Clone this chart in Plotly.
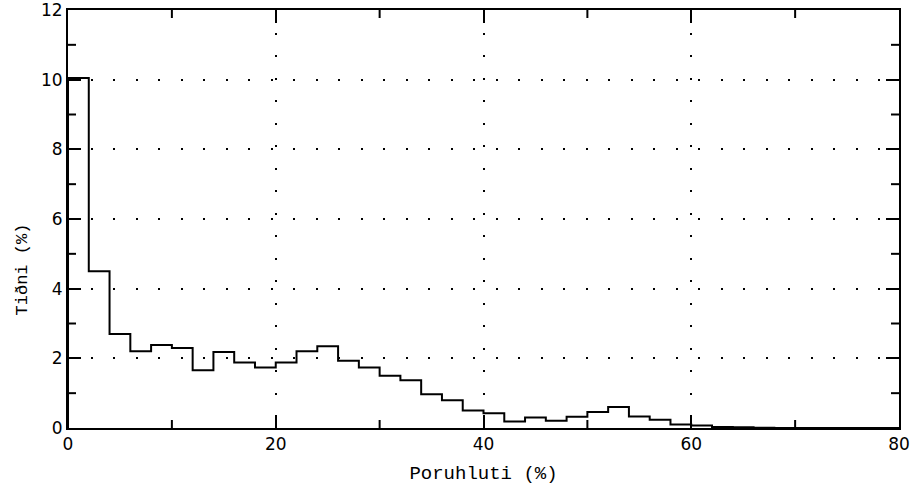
import plotly.graph_objects as go

# Porosity histogram: frequency (%) per 2 %-wide porosity class
bin_lefts = [0, 2, 4, 6, 8, 10, 12, 14, 16, 18,
             20, 22, 24, 26, 28, 30, 32, 34, 36, 38,
             40, 42, 44, 46, 48, 50, 52, 54, 56, 58,
             60, 62, 64, 66, 68, 70, 72, 74, 76, 78]
bin_width = 2
frequency = [10.05, 4.5, 2.7, 2.2, 2.38, 2.3, 1.66, 2.18, 1.88, 1.74,
             1.88, 2.2, 2.35, 1.93, 1.74, 1.5, 1.37, 0.97, 0.8, 0.5,
             0.42, 0.19, 0.3, 0.21, 0.32, 0.46, 0.6, 0.33, 0.24, 0.1,
             0.07, 0.03, 0.02, 0.01, 0, 0, 0, 0, 0, 0]

x_ticks = [0, 20, 40, 60, 80]
x_minor = [10, 30, 50, 70]
y_ticks = [0, 2, 4, 6, 8, 10, 12]
y_minor = [1, 3, 5, 7, 9, 11]
x_range = [0, 80]
y_range = [0, 12]

# step outline: each class drawn as a horizontal segment over its width
step_x = [bin_lefts[0]] + bin_lefts + [bin_lefts[-1] + bin_width]
step_y = [0] + frequency + [frequency[-1]]

tick_font = dict(family="DejaVu Sans", size=17, color="black")
title_font = dict(family="Liberation Mono", size=19, color="black")
dots = "2px,20.5px"
MAJOR_LEN, MINOR_LEN = 13, 8

fig = go.Figure()
fig.add_trace(go.Scatter(
    x=step_x, y=step_y, mode="lines",
    line=dict(color="black", width=2, shape="hv"),
    hoverinfo="skip", showlegend=False,
))

# minor tick marks pointing inward on all four sides
minor_line = dict(color="black", width=2)
shapes = []
for v in x_minor:
    for anchor, sign in ((0, 1), (1, -1)):
        shapes.append(dict(type="line", xref="x", yref="paper",
                           ysizemode="pixel", yanchor=anchor,
                           x0=v, x1=v, y0=0, y1=sign * MINOR_LEN,
                           line=minor_line, layer="above"))
for v in y_minor:
    for anchor, sign in ((0, 1), (1, -1)):
        shapes.append(dict(type="line", yref="y", xref="paper",
                           xsizemode="pixel", xanchor=anchor,
                           y0=v, y1=v, x0=0, x1=sign * MINOR_LEN,
                           line=minor_line, layer="above"))

frame = dict(showline=True, linecolor="black", linewidth=2, mirror="ticks",
             zeroline=False, ticks="inside", ticklen=MAJOR_LEN, tickwidth=2,
             tickcolor="black", showgrid=True, gridcolor="black", gridwidth=2,
             griddash=dots, tickfont=tick_font, automargin=False,
             ticklabeloverflow="allow")

fig.update_layout(
    width=917, height=491,
    margin=dict(l=68, r=18, t=10, b=63, autoexpand=False),
    plot_bgcolor="white", paper_bgcolor="white",
    xaxis=dict(
        range=x_range, tickvals=x_ticks,
        title=dict(text="Poruhluti (%)", font=title_font, standoff=12),
        **frame,
    ),
    yaxis=dict(range=y_range, tickvals=y_ticks, **frame),
    shapes=shapes,
    annotations=[dict(
        text="Tiðni (%)", textangle=-90,
        font=dict(family="Liberation Mono", size=17, color="black"),
        xref="paper", yref="paper", x=-0.055, y=0.38,
        xanchor="center", yanchor="middle", showarrow=False,
    )],
)

fig.write_html("out.html")
